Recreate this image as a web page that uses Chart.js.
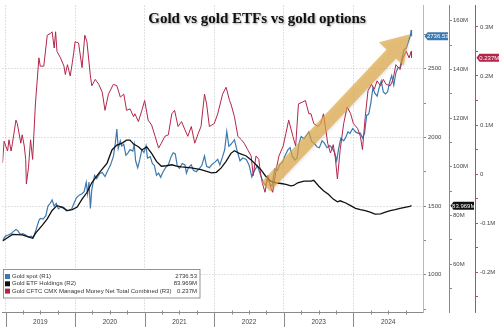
<!DOCTYPE html>
<html>
<head>
<meta charset="utf-8">
<script src="https://cdn.jsdelivr.net/npm/chart.js@4.4.1/dist/chart.umd.min.js"></script>
<style>
body { margin: 0; background: #fff; }
canvas { display: block; }
</style>
</head>
<body>
<canvas id="chartOne" width="500" height="327"></canvas>
<script>
// Gold spot (R1), decimal years
let spotDates = [2018.96, 2019.00, 2019.04, 2019.08, 2019.12, 2019.15, 2019.18, 2019.21, 2019.25, 2019.29,
    2019.33, 2019.37, 2019.40, 2019.44, 2019.48, 2019.50, 2019.54, 2019.58, 2019.61, 2019.64,
    2019.67, 2019.70, 2019.73, 2019.76, 2019.80, 2019.84, 2019.87, 2019.91, 2019.95, 2019.98,
    2020.02, 2020.06, 2020.10, 2020.13, 2020.16, 2020.18, 2020.20, 2020.22, 2020.24, 2020.28,
    2020.31, 2020.35, 2020.39, 2020.43, 2020.47, 2020.51, 2020.55, 2020.58, 2020.60, 2020.62,
    2020.65, 2020.67, 2020.70, 2020.73, 2020.76, 2020.79, 2020.83, 2020.85, 2020.87, 2020.90,
    2020.93, 2020.96, 2020.99, 2021.02, 2021.04, 2021.08, 2021.11, 2021.14, 2021.17, 2021.20,
    2021.23, 2021.26, 2021.30, 2021.34, 2021.38, 2021.41, 2021.44, 2021.47, 2021.50, 2021.54,
    2021.58, 2021.60, 2021.63, 2021.67, 2021.70, 2021.74, 2021.78, 2021.82, 2021.86, 2021.89,
    2021.93, 2021.97, 2022.01, 2022.05, 2022.08, 2022.12, 2022.15, 2022.18, 2022.21, 2022.24,
    2022.29, 2022.33, 2022.37, 2022.41, 2022.46, 2022.50, 2022.54, 2022.58, 2022.62, 2022.66,
    2022.70, 2022.74, 2022.77, 2022.80, 2022.83, 2022.87, 2022.91, 2022.94, 2022.98, 2023.02,
    2023.06, 2023.09, 2023.12, 2023.16, 2023.19, 2023.22, 2023.25, 2023.29, 2023.33, 2023.36,
    2023.40, 2023.44, 2023.48, 2023.51, 2023.55, 2023.58, 2023.62, 2023.66, 2023.69, 2023.73,
    2023.76, 2023.79, 2023.82, 2023.86, 2023.89, 2023.92, 2023.95, 2023.99, 2024.03, 2024.07,
    2024.10, 2024.13, 2024.16, 2024.19, 2024.22, 2024.25, 2024.28, 2024.31, 2024.34, 2024.37,
    2024.40, 2024.43, 2024.46, 2024.49, 2024.52, 2024.55, 2024.58, 2024.61, 2024.64, 2024.67,
    2024.70, 2024.73, 2024.76, 2024.79, 2024.82, 2024.83, 2024.835];
let spotValues = [1252, 1282, 1290, 1300, 1318, 1330, 1320, 1295, 1300, 1290,
    1275, 1282, 1270, 1330, 1395, 1411, 1405, 1430, 1500, 1519,
    1545, 1500, 1520, 1480, 1495, 1490, 1465, 1470, 1478, 1515,
    1560, 1580, 1590, 1605, 1674, 1590, 1675, 1483, 1620, 1724,
    1700, 1735, 1745, 1715, 1760, 1800, 1860, 1965, 2061, 1920,
    1975, 1938, 1950, 1870, 1888, 1911, 1900, 1950, 1830, 1780,
    1840, 1911, 1890, 1940, 1850, 1860, 1810, 1795, 1724, 1740,
    1710, 1745, 1780, 1800, 1860, 1888, 1880, 1790, 1775, 1810,
    1800, 1740, 1780, 1800, 1760, 1750, 1770, 1795, 1864, 1790,
    1780, 1805, 1820, 1840, 1800, 1860, 1910, 2043, 1935, 1950,
    1983, 1900, 1830, 1850, 1840, 1800, 1712, 1760, 1795, 1735,
    1675, 1650, 1710, 1660, 1645, 1770, 1760, 1800, 1820, 1870,
    1911, 1925, 1865, 1835, 1850, 1960, 2007, 1990, 2019, 2040,
    1971, 1955, 1930, 1925, 1975, 1960, 1925, 1940, 1925, 1890,
    1830, 1925, 1995, 1975, 2000, 2040, 2030, 2065, 2040, 2030,
    2031, 1995, 2030, 2160, 2170, 2250, 2360, 2320, 2300, 2360,
    2410, 2330, 2316, 2330, 2400, 2450, 2380, 2470, 2507, 2510,
    2580, 2640, 2650, 2697, 2745, 2781, 2736.53];

// Gold ETF holdings (R2), millions of ounces
let etfDates = [2018.957, 2019.10, 2019.24, 2019.39, 2019.43, 2019.53, 2019.60, 2019.67, 2019.74, 2019.81,
    2019.89, 2019.96, 2020.03, 2020.10, 2020.17, 2020.24, 2020.31, 2020.39, 2020.46, 2020.53,
    2020.60, 2020.67, 2020.74, 2020.79, 2020.84, 2020.91, 2020.96, 2021.03, 2021.10, 2021.17,
    2021.24, 2021.31, 2021.39, 2021.46, 2021.53, 2021.67, 2021.81, 2021.96, 2022.03, 2022.10,
    2022.17, 2022.24, 2022.29, 2022.36, 2022.46, 2022.53, 2022.60, 2022.67, 2022.74, 2022.81,
    2022.89, 2022.96, 2023.03, 2023.10, 2023.14, 2023.20, 2023.29, 2023.39, 2023.43, 2023.50,
    2023.57, 2023.64, 2023.71, 2023.77, 2023.81, 2023.89, 2023.96, 2024.03, 2024.10, 2024.17,
    2024.24, 2024.31, 2024.39, 2024.46, 2024.53, 2024.60, 2024.67, 2024.74, 2024.81, 2024.835];
let etfValues = [69.5, 72.2, 72.0, 70.6, 72.6, 76.0, 78.6, 82.0, 84.0, 83.4,
    82.0, 82.4, 83.4, 86.7, 89.4, 93.4, 96.1, 99.0, 101.5, 106.9,
    108.9, 109.6, 110.9, 110.9, 109.3, 108.2, 106.9, 108.2, 105.5, 102.2,
    100.2, 100.4, 100.8, 100.2, 99.9, 99.5, 98.8, 97.5, 97.7, 99.5,
    102.2, 105.5, 106.6, 105.5, 104.4, 102.8, 100.8, 98.8, 96.1, 94.1,
    93.4, 93.1, 92.7, 92.1, 92.3, 93.4, 94.1, 94.1, 94.4, 92.1,
    90.1, 88.7, 86.7, 85.6, 86.0, 85.1, 84.0, 82.9, 82.4, 82.0,
    81.3, 80.5, 80.6, 81.3, 82.0, 82.4, 82.9, 83.3, 83.7, 83.969];

// CFTC managed money net (R3), millions of contracts
let cftcDates = [2018.957, 2018.98, 2019.03, 2019.05, 2019.08, 2019.10, 2019.15, 2019.17, 2019.22, 2019.24,
    2019.27, 2019.29, 2019.30, 2019.33, 2019.36, 2019.39, 2019.43, 2019.48, 2019.50, 2019.55,
    2019.60, 2019.65, 2019.67, 2019.70, 2019.72, 2019.74, 2019.79, 2019.84, 2019.86, 2019.89,
    2019.93, 2019.96, 2019.98, 2020.00, 2020.05, 2020.10, 2020.14, 2020.17, 2020.22, 2020.24,
    2020.29, 2020.34, 2020.39, 2020.43, 2020.48, 2020.55, 2020.60, 2020.65, 2020.70, 2020.74,
    2020.79, 2020.84, 2020.86, 2020.91, 2020.96, 2021.00, 2021.05, 2021.10, 2021.15, 2021.20,
    2021.24, 2021.29, 2021.34, 2021.39, 2021.43, 2021.48, 2021.53, 2021.58, 2021.62, 2021.67,
    2021.72, 2021.77, 2021.81, 2021.86, 2021.89, 2021.93, 2022.00, 2022.05, 2022.12, 2022.17,
    2022.22, 2022.24, 2022.29, 2022.34, 2022.39, 2022.43, 2022.48, 2022.53, 2022.56, 2022.60,
    2022.64, 2022.67, 2022.70, 2022.73, 2022.77, 2022.81, 2022.84, 2022.89, 2022.93, 2022.99,
    2023.03, 2023.07, 2023.13, 2023.17, 2023.21, 2023.27, 2023.31, 2023.36, 2023.39, 2023.43,
    2023.49, 2023.53, 2023.57, 2023.63, 2023.67, 2023.71, 2023.74, 2023.77, 2023.81, 2023.86,
    2023.91, 2023.96, 2024.00, 2024.06, 2024.10, 2024.13, 2024.17, 2024.21, 2024.26, 2024.30,
    2024.34, 2024.39, 2024.43, 2024.47, 2024.53, 2024.57, 2024.61, 2024.67, 2024.71, 2024.76,
    2024.80, 2024.83, 2024.835];
let cftcValues = [0.023, 0.067, 0.047, 0.070, 0.047, 0.063, 0.110, 0.103, 0.063, 0.080,
    0.057, 0.030, -0.020, 0.013, 0.070, 0.030, 0.143, 0.237, 0.220, 0.220,
    0.283, 0.287, 0.290, 0.257, 0.290, 0.250, 0.237, 0.220, 0.203, 0.223,
    0.200, 0.227, 0.247, 0.270, 0.267, 0.217, 0.283, 0.270, 0.200, 0.180,
    0.193, 0.183, 0.167, 0.130, 0.163, 0.183, 0.180, 0.157, 0.163, 0.130,
    0.133, 0.117, 0.123, 0.107, 0.130, 0.150, 0.110, 0.100, 0.077, 0.053,
    0.063, 0.077, 0.080, 0.123, 0.130, 0.097, 0.107, 0.090, 0.077, 0.097,
    0.063, 0.083, 0.097, 0.163, 0.143, 0.097, 0.103, 0.123, 0.163, 0.177,
    0.150, 0.143, 0.117, 0.077, 0.070, 0.063, 0.050, 0.037, -0.003, 0.037,
    0.030, -0.003, -0.023, -0.037, -0.003, -0.027, -0.037, 0.010, 0.037, 0.057,
    0.083, 0.110, 0.077, 0.057, 0.143, 0.147, 0.150, 0.123, 0.123, 0.103,
    0.097, 0.103, 0.123, 0.063, 0.043, 0.060, 0.033, -0.010, 0.050, 0.103,
    0.137, 0.123, 0.103, 0.093, 0.077, 0.050, 0.117, 0.170, 0.183, 0.173,
    0.190, 0.180, 0.193, 0.183, 0.180, 0.193, 0.223, 0.213, 0.237, 0.250,
    0.237, 0.250, 0.237];

let yearLabels = ['2019', '2020', '2021', '2022', '2023', '2024'];
let spotTicks = [1000, 1500, 2000, 2500];
let etfTicks = [60, 80, 100, 120, 140, 160];
let cftcTicks = [-0.2, -0.1, 0, 0.1, 0.2, 0.3];

let seriesNames = ['Gold spot (R1)', 'Gold ETF Holdings (R2)', 'Gold CFTC CMX Managed Money Net Total Combined (R3)'];

const BLUE = '#3d79ae';
const BLACK = '#111111';
const RED = '#b3264a';
const SANS = '"Liberation Sans", Arial, sans-serif';

function toPoints(dates, values) {
    return dates.map((d, i) => ({ x: d, y: values[i] }));
}

function last(arr) {
    return arr[arr.length - 1];
}

// value tag sitting on an axis, pointing at the axis line
function drawTag(ctx, scale, value, text, bg) {
    let y = scale.getPixelForValue(value);
    let x0 = scale.left + 1.5;
    let x1 = scale.right - 1;
    ctx.save();
    ctx.fillStyle = bg;
    ctx.beginPath();
    ctx.moveTo(x0, y);
    ctx.lineTo(x0 + 3, y - 4);
    ctx.lineTo(x1, y - 4);
    ctx.lineTo(x1, y + 4);
    ctx.lineTo(x0 + 3, y + 4);
    ctx.closePath();
    ctx.fill();
    ctx.fillStyle = '#fff';
    ctx.font = '6px ' + SANS;
    ctx.textAlign = 'center';
    ctx.textBaseline = 'middle';
    ctx.fillText(text, (x0 + x1) / 2 + 1.5, y + 0.5);
    ctx.restore();
}

// trend arrow, anchored in date / R1 price space
const arrowFrom = { x: 2022.74, y: 1640 };
const arrowTo = { x: 2024.81, y: 2750 };

const extras = {
    id: 'extras',
    afterDatasetsDraw(chart) {
        const ctx = chart.ctx;
        const xs = chart.scales.x;
        const ys = chart.scales.ySpot;
        let ax = xs.getPixelForValue(arrowFrom.x), ay = ys.getPixelForValue(arrowFrom.y);
        let bx = xs.getPixelForValue(arrowTo.x), by = ys.getPixelForValue(arrowTo.y);
        let len = Math.hypot(bx - ax, by - ay);
        let ux = (bx - ax) / len, uy = (by - ay) / len;
        let px = -uy, py = ux;
        let shaft = 6.5, head = 17, headLen = 27;
        let hx = bx - ux * headLen, hy = by - uy * headLen;
        ctx.save();
        ctx.fillStyle = 'rgba(224, 168, 66, 0.68)';
        ctx.shadowColor = 'rgba(0,0,0,0.15)';
        ctx.shadowBlur = 3;
        ctx.shadowOffsetX = 1;
        ctx.shadowOffsetY = 1;
        ctx.beginPath();
        ctx.moveTo(ax + px * shaft, ay + py * shaft);
        ctx.lineTo(hx + px * shaft, hy + py * shaft);
        ctx.lineTo(hx + px * head, hy + py * head);
        ctx.lineTo(bx, by);
        ctx.lineTo(hx - px * head, hy - py * head);
        ctx.lineTo(hx - px * shaft, hy - py * shaft);
        ctx.lineTo(ax - px * shaft, ay - py * shaft);
        ctx.closePath();
        ctx.fill();
        ctx.restore();
    },
    afterDraw(chart) {
        const ctx = chart.ctx;
        const xs = chart.scales.x;

        // year separators and quarter marks under the x axis
        ctx.save();
        ctx.strokeStyle = '#8a8a8a';
        ctx.lineWidth = 1;
        for (let q = 2019; q < 2025; q += 0.25) {
            let x = Math.round(xs.getPixelForValue(q)) + 0.5;
            ctx.beginPath();
            if (q % 1 === 0) {
                ctx.moveTo(x, xs.top);
                ctx.lineTo(x, chart.height);
            } else {
                ctx.moveTo(x, xs.top - 2);
                ctx.lineTo(x, xs.top + 2);
            }
            ctx.stroke();
        }
        ctx.restore();

        // title
        ctx.save();
        ctx.font = 'bold 15px "Liberation Serif", "Times New Roman", serif';
        ctx.textAlign = 'center';
        ctx.textBaseline = 'middle';
        ctx.shadowColor = 'rgba(0,0,0,0.35)';
        ctx.shadowBlur = 2;
        ctx.shadowOffsetX = 1;
        ctx.shadowOffsetY = 1;
        ctx.fillStyle = '#111';
        ctx.fillText('Gold vs gold ETFs vs gold options', 257, 19);
        ctx.restore();

        // legend box with last values
        let colors = [BLUE, BLACK, RED];
        let values = [last(spotValues).toFixed(2), last(etfValues).toFixed(3) + 'M', last(cftcValues).toFixed(3) + 'M'];
        ctx.save();
        ctx.fillStyle = '#fff';
        ctx.strokeStyle = '#7a7a7a';
        ctx.lineWidth = 0.8;
        ctx.fillRect(3, 269, 197, 29);
        ctx.strokeRect(3.5, 269.5, 196.5, 28.5);
        ctx.font = '6px ' + SANS;
        ctx.textBaseline = 'middle';
        for (let i = 0; i < 3; i++) {
            let y = 276.5 + i * 7.3;
            ctx.fillStyle = colors[i];
            ctx.fillRect(5, y - 2.5, 5, 5);
            ctx.fillStyle = '#333';
            ctx.textAlign = 'left';
            ctx.fillText(seriesNames[i], 12, y);
            ctx.textAlign = 'right';
            ctx.fillText(values[i], 197, y);
        }
        ctx.restore();

        // value tags on the right axes
        drawTag(ctx, chart.scales.ySpot, last(spotValues), last(spotValues).toFixed(2), BLUE);
        drawTag(ctx, chart.scales.yEtf, last(etfValues), last(etfValues).toFixed(3) + 'M', BLACK);
        drawTag(ctx, chart.scales.yCftc, last(cftcValues), last(cftcValues).toFixed(3) + 'M', RED);
    }
};

const tickFont = { size: 6, family: SANS };

var ctx = document.getElementById('chartOne').getContext('2d');
var chartOne = new Chart(ctx, {
    type: 'line',
    data: {
        datasets: [{
            label: seriesNames[1],
            data: toPoints(etfDates, etfValues),
            yAxisID: 'yEtf',
            borderColor: BLACK,
            borderWidth: 1.3
        }, {
            label: seriesNames[2],
            data: toPoints(cftcDates, cftcValues),
            yAxisID: 'yCftc',
            borderColor: RED,
            borderWidth: 1
        }, {
            label: seriesNames[0],
            data: toPoints(spotDates, spotValues),
            yAxisID: 'ySpot',
            borderColor: BLUE,
            borderWidth: 1.2
        }]
    },
    options: {
        responsive: false,
        animation: false,
        layout: { padding: 0 },
        elements: {
            point: { radius: 0 },
            line: { tension: 0, fill: false }
        },
        plugins: {
            legend: { display: false },
            tooltip: { enabled: false }
        },
        scales: {
            x: {
                type: 'linear',
                min: 2018.957,
                max: 2025,
                afterBuildTicks: s => {
                    s.ticks = [];
                    yearLabels.forEach(y => {
                        s.ticks.push({ value: Number(y) });
                        s.ticks.push({ value: Number(y) + 0.5 });
                    });
                },
                afterFit: s => { s.height = 14.5; },
                ticks: {
                    autoSkip: false,
                    maxRotation: 0,
                    padding: 5.5,
                    font: { size: 6.5, family: SANS },
                    color: '#444',
                    callback: v => (v % 1 === 0.5 ? String(Math.floor(v)) : '')
                },
                grid: {
                    drawTicks: false,
                    color: c => (c.tick && c.tick.value % 1 === 0 ? '#c2c2c2' : 'rgba(0,0,0,0)')
                },
                border: { color: '#8a8a8a', dash: [1, 2] }
            },
            ySpot: {
                position: 'right',
                min: 726,
                max: 2959,
                afterBuildTicks: s => {
                    s.ticks = [];
                    for (let v = 750; v <= 2750; v += 250) s.ticks.push({ value: v });
                },
                afterFit: s => { s.width = 26; },
                ticks: {
                    padding: 2,
                    font: tickFont,
                    color: '#444',
                    callback: v => (spotTicks.includes(v) ? String(v) : '')
                },
                grid: {
                    tickLength: 3,
                    tickColor: '#8a8a8a',
                    color: c => (c.tick && spotTicks.includes(c.tick.value) ? '#c2c2c2' : 'rgba(0,0,0,0)')
                },
                border: { color: '#a9bccd', dash: [1, 2] }
            },
            yEtf: {
                position: 'right',
                min: 40.1,
                max: 166.2,
                afterBuildTicks: s => {
                    s.ticks = [];
                    for (let v = 50; v <= 160; v += 10) s.ticks.push({ value: v });
                },
                afterFit: s => { s.width = 26; },
                ticks: {
                    padding: 1,
                    font: tickFont,
                    color: '#444',
                    callback: v => (etfTicks.includes(v) ? v + 'M' : '')
                },
                grid: { drawOnChartArea: false, tickLength: 3, tickColor: '#8a8a8a' },
                border: { color: '#8a8a8a' }
            },
            yCftc: {
                position: 'right',
                min: -0.282,
                max: 0.3434,
                afterBuildTicks: s => {
                    s.ticks = [];
                    for (let k = -5; k <= 6; k++) s.ticks.push({ value: k * 0.05 });
                },
                afterFit: s => { s.width = 25; },
                ticks: {
                    padding: 2,
                    font: tickFont,
                    color: '#444',
                    callback: v => {
                        let t = cftcTicks.find(c => Math.abs(c - v) < 1e-6);
                        if (t === undefined) return '';
                        return t === 0 ? '0' : t.toFixed(1) + 'M';
                    }
                },
                grid: { drawOnChartArea: false, tickLength: 3, tickColor: '#c04a66' },
                border: { color: '#c04a66' }
            }
        }
    },
    plugins: [extras]
});
</script>
</body>
</html>
